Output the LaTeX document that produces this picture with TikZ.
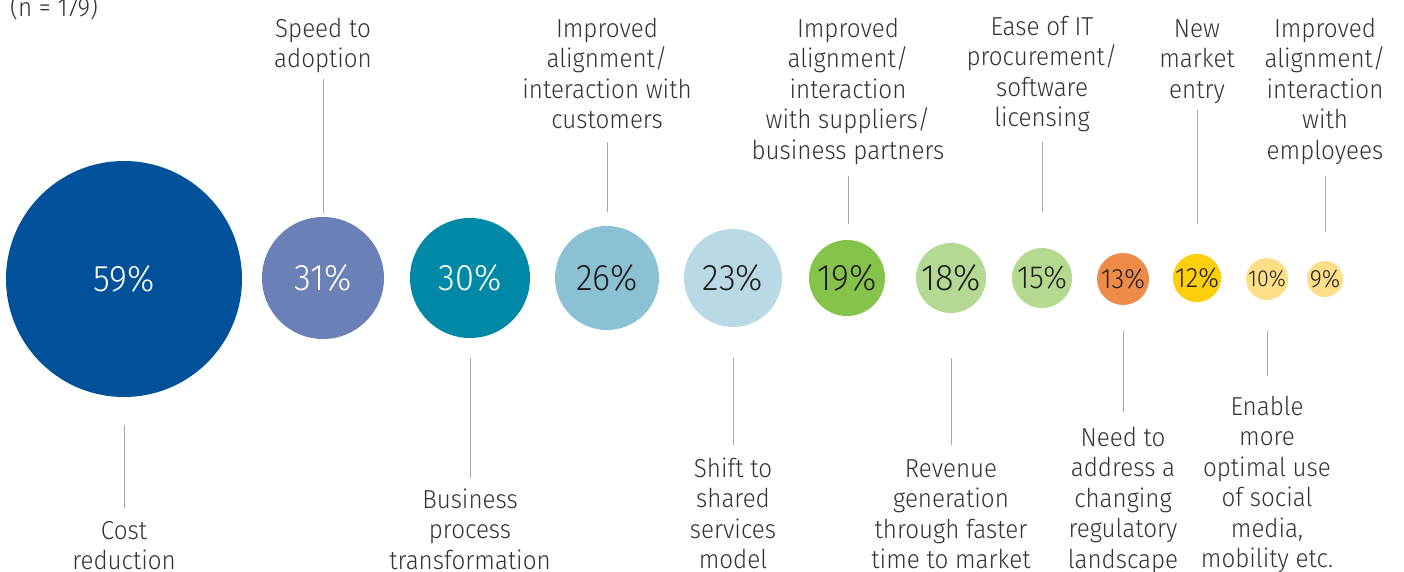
\documentclass[tikz,border=0pt]{standalone}
\usepackage{fontspec}
\setmainfont{Fira Sans}[UprightFont={* Light},FakeStretch=0.93]
\newfontfamily\pctfont{Fira Sans}[UprightFont={* Light},FakeStretch=0.93]
\usepackage{array}
\definecolor{cA}{HTML}{00509A}
\definecolor{cB}{HTML}{6A80B6}
\definecolor{cC}{HTML}{0089A7}
\definecolor{cD}{HTML}{8AC2D3}
\definecolor{cE}{HTML}{B9DAE5}
\definecolor{cF}{HTML}{86C34A}
\definecolor{cG}{HTML}{B3D993}
\definecolor{cH}{HTML}{B5D98F}
\definecolor{cI}{HTML}{EE8B49}
\definecolor{cJ}{HTML}{FECF0A}
\definecolor{cK}{HTML}{FEDF87}
\definecolor{labgray}{HTML}{333333}
\definecolor{pctdark}{HTML}{231F20}
\definecolor{linegray}{HTML}{AAAAAA}
\newcommand{\mylbl}[1]{\begin{tabular}[t]{@{}c@{}}#1\end{tabular}}
\newcommand{\pct}[1]{\pctfont\fontsize{#1}{#1}\selectfont}
\tikzset{
  bub/.style={circle, inner sep=0pt, minimum size=#1},
  pw/.style={text=white},
  pd/.style={text=pctdark},
  lab/.style={inner sep=0pt, anchor=base, text=labgray, font=\fontsize{26}{30.5}\selectfont},
  lead/.style={draw=linegray, line width=1pt},
}
\begin{document}
\begin{tikzpicture}[x=1pt,y=-1pt]
\useasboundingbox (0,0) rectangle (1404,572);
% bubbles
\node[bub=236, fill=cA, pw, font=\pct{37}] (c1) at (124,279) {59\%};
\node[bub=122, fill=cB, pw, font=\pct{37}] (c2) at (323,278) {31\%};
\node[bub=120, fill=cC, pw, font=\pct{37}] (c3) at (470,278) {30\%};
\node[bub=104, fill=cD, pd, font=\pct{37}] (c4) at (607,278) {26\%};
\node[bub=98,  fill=cE, pd, font=\pct{37}] (c5) at (733,278) {23\%};
\node[bub=76,  fill=cF, pd, font=\pct{37}] (c6) at (847,278) {19\%};
\node[bub=70,  fill=cG, pd, font=\pct{37}] (c7) at (951,278) {18\%};
\node[bub=60,  fill=cH, pd, font=\pct{32}] (c8) at (1042,278) {15\%};
\node[bub=52,  fill=cI, pd, font=\pct{28}] (c9) at (1123,279) {13\%};
\node[bub=48,  fill=cJ, pd, font=\pct{28}] (c10) at (1197,278) {12\%};
\node[bub=42,  fill=cK, pd, font=\pct{23}] (c11) at (1267,279) {10\%};
\node[bub=36,  fill=cK, pd, font=\pct{25}] (c12) at (1325,279) {9\%};
% sample size
\node[lab, anchor=base west] (n) at (10,17) {(n = 179)};
% top labels
\node[lab] (t2) at (323,37.5) {\mylbl{Speed to\\adoption}};
\node[lab] (t4) at (607,37.5) {\mylbl{Improved\\alignment/\\interaction with\\customers}};
\node[lab] (t6) at (848,37.5) {\mylbl{Improved\\alignment/\\interaction\\with suppliers/\\business partners}};
\node[lab] (t8) at (1042,35.5) {\mylbl{Ease of IT\\procurement/\\software\\licensing}};
\node[lab] (t10) at (1197,37.5) {\mylbl{New\\market\\entry}};
\node[lab] (t12) at (1325,37.5) {\mylbl{Improved\\alignment/\\interaction\\with\\employees}};
% bottom labels
\node[lab] (b1) at (124,539) {\mylbl{Cost\\reduction}};
\node[lab] (b3) at (470,508) {\mylbl{Business\\process\\transformation}};
\node[lab] (b5) at (733,477) {\mylbl{Shift to\\shared\\services\\model}};
\node[lab] (b7) at (951,477) {\mylbl{Revenue\\generation\\through faster\\time to market}};
\node[lab] (b9) at (1123,446) {\mylbl{Need to\\address a\\changing\\regulatory\\landscape}};
\node[lab] (b11) at (1267,415) {\mylbl{Enable\\more\\optimal use\\of social\\media,\\mobility etc.}};
% leader line end points
\coordinate (t2a) at (323,79);   \coordinate (t2b) at (323,213);
\coordinate (t4a) at (607,142);  \coordinate (t4b) at (607,212);
\coordinate (t6a) at (848,176);  \coordinate (t6b) at (848,224);
\coordinate (t8a) at (1042,142); \coordinate (t8b) at (1042,212);
\coordinate (t10a) at (1197,110); \coordinate (t10b) at (1197,224);
\coordinate (t12a) at (1325,176); \coordinate (t12b) at (1325,232);
\coordinate (b1a) at (124,425);  \coordinate (b1b) at (124,508);
\coordinate (b3a) at (470,358);  \coordinate (b3b) at (470,478);
\coordinate (b5a) at (733,358);  \coordinate (b5b) at (733,445);
\coordinate (b7a) at (951,358);  \coordinate (b7b) at (951,445);
\coordinate (b9a) at (1123,331); \coordinate (b9b) at (1123,412);
\coordinate (b11a) at (1267,331); \coordinate (b11b) at (1267,376);
\foreach \k in {t2,t4,t6,t8,t10,t12,b1,b3,b5,b7,b9,b11}
  \draw[lead] (\k a) -- (\k b);
\end{tikzpicture}
\end{document}
